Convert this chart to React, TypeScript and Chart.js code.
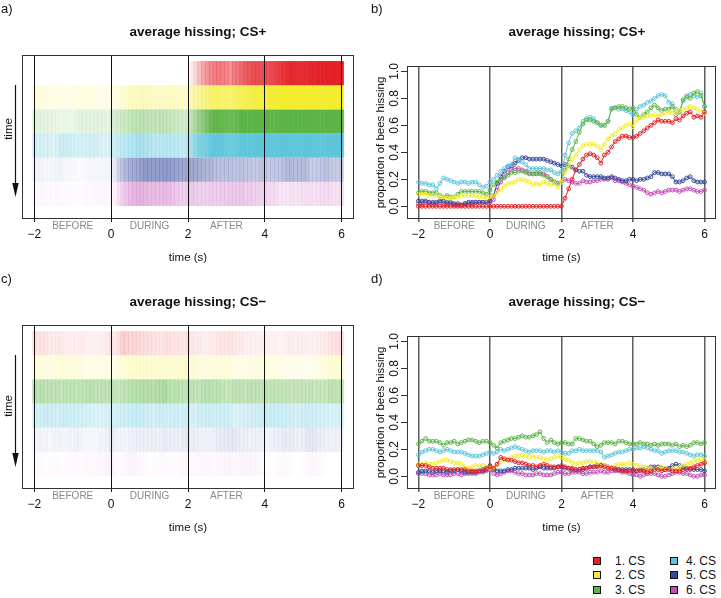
import React, { useEffect, useRef } from "react";
import { Chart, registerables } from "chart.js";

Chart.register(...registerables);

const FONT = '"Liberation Sans", Arial, Helvetica, sans-serif';
Chart.defaults.font.family = FONT;
Chart.defaults.color = "#111";

// ---------- data ----------
const TIME = [
  -2.0, -1.9, -1.8, -1.7, -1.6, -1.5, -1.4, -1.3, -1.2, -1.1,
  -1.0, -0.9, -0.8, -0.7, -0.6, -0.5, -0.4, -0.3, -0.2, -0.1,
  0.0, 0.1, 0.2, 0.3, 0.4, 0.5, 0.6, 0.7, 0.8, 0.9,
  1.0, 1.1, 1.2, 1.3, 1.4, 1.5, 1.6, 1.7, 1.8, 1.9,
  2.0, 2.1, 2.2, 2.3, 2.4, 2.5, 2.6, 2.7, 2.8, 2.9,
  3.0, 3.1, 3.2, 3.3, 3.4, 3.5, 3.6, 3.7, 3.8, 3.9,
  4.0, 4.1, 4.2, 4.3, 4.4, 4.5, 4.6, 4.7, 4.8, 4.9,
  5.0, 5.1, 5.2, 5.3, 5.4, 5.5, 5.6, 5.7, 5.8, 5.9,
  6.0,
];

const SERIES = ["1. CS", "2. CS", "3. CS", "4. CS", "5. CS", "6. CS"];
const COLORS = ["#E41F26", "#F3EC2F", "#5DB446", "#5FC5DB", "#34479B", "#C04FB8"];
const HEAT_ROW = [5, 4, 3, 2, 1, 0];

const X_TICKS = [-2, 0, 2, 4, 6];
const X_TICK_LABELS = ["\u22122", "0", "2", "4", "6"];
const Y_TICKS = [0, 0.2, 0.4, 0.6, 0.8, 1.0];
const Y_TICK_LABELS = ["0.0", "0.2", "0.4", "0.6", "0.8", "1.0"];
const PHASES = ["BEFORE", "DURING", "AFTER"];
const PHASE_AT = [-1, 1, 3];

// CS+ (panels a, b)
const CSP_1 = [
  0, 0, 0, 0, 0, 0, 0, 0, 0, 0,
  0, 0, 0, 0, 0, 0, 0, 0, 0, 0,
  0, 0, 0, 0, 0, 0, 0, 0, 0, 0,
  0, 0, 0, 0, 0, 0, 0, 0, 0, 0,
  0.00, 0.06, 0.13, 0.20, 0.27, 0.31, 0.35, 0.38, 0.39, 0.38,
  0.36, 0.32, 0.38, 0.40, 0.44, 0.48, 0.50, 0.52, 0.52, 0.51,
  0.51, 0.52, 0.54, 0.56, 0.58, 0.60, 0.62, 0.64, 0.63, 0.63,
  0.63, 0.62, 0.65, 0.64, 0.67, 0.69, 0.70, 0.66, 0.67, 0.66,
  0.70,
];
const CSP_2 = [
  0.09, 0.09, 0.09, 0.08, 0.08, 0.08, 0.07, 0.07, 0.06, 0.06,
  0.07, 0.07, 0.08, 0.08, 0.08, 0.08, 0.08, 0.07, 0.07, 0.06,
  0.07, 0.08, 0.10, 0.12, 0.15, 0.17, 0.17, 0.18, 0.20, 0.20,
  0.19, 0.18, 0.16, 0.17, 0.16, 0.18, 0.17, 0.16, 0.17, 0.14,
  0.18, 0.25, 0.30, 0.35, 0.38, 0.42, 0.45, 0.46, 0.46, 0.46,
  0.45, 0.42, 0.46, 0.50, 0.52, 0.54, 0.57, 0.58, 0.60, 0.61,
  0.59, 0.64, 0.66, 0.66, 0.67, 0.67, 0.68, 0.67, 0.68, 0.69,
  0.70, 0.69, 0.70, 0.71, 0.72, 0.73, 0.74, 0.73, 0.72, 0.70,
  0.69,
];
const CSP_3 = [
  0.10, 0.11, 0.11, 0.10, 0.10, 0.10, 0.08, 0.07, 0.08, 0.07,
  0.07, 0.09, 0.11, 0.11, 0.11, 0.11, 0.11, 0.11, 0.10, 0.09,
  0.12, 0.16, 0.18, 0.20, 0.21, 0.23, 0.25, 0.25, 0.26, 0.26,
  0.25, 0.24, 0.24, 0.25, 0.24, 0.23, 0.22, 0.20, 0.18, 0.17,
  0.18, 0.27, 0.35, 0.42, 0.48, 0.55, 0.61, 0.64, 0.64, 0.63,
  0.62, 0.60, 0.60, 0.63, 0.72, 0.73, 0.74, 0.74, 0.73, 0.72,
  0.73, 0.68, 0.66, 0.68, 0.70, 0.73, 0.75, 0.73, 0.71, 0.72,
  0.72, 0.74, 0.68, 0.70, 0.79, 0.81, 0.80, 0.84, 0.85, 0.82,
  0.74,
];
const CSP_4 = [
  0.18, 0.17, 0.17, 0.16, 0.16, 0.13, 0.17, 0.21, 0.20, 0.19,
  0.18, 0.17, 0.18, 0.18, 0.17, 0.18, 0.18, 0.16, 0.14, 0.15,
  0.18, 0.20, 0.23, 0.26, 0.28, 0.30, 0.31, 0.36, 0.35, 0.33,
  0.31, 0.28, 0.28, 0.28, 0.28, 0.28, 0.27, 0.27, 0.25, 0.24,
  0.26, 0.38, 0.47, 0.54, 0.56, 0.58, 0.63, 0.65, 0.66, 0.65,
  0.62, 0.60, 0.60, 0.63, 0.73, 0.73, 0.72, 0.72, 0.71, 0.70,
  0.68, 0.72, 0.74, 0.75, 0.77, 0.78, 0.80, 0.82, 0.83, 0.82,
  0.77, 0.76, 0.72, 0.70, 0.78, 0.82, 0.83, 0.82, 0.81, 0.84,
  0.74,
];
const CSP_5 = [
  0.04, 0.04, 0.04, 0.03, 0.03, 0.03, 0.04, 0.04, 0.03, 0.03,
  0.02, 0.02, 0.01, 0.02, 0.03, 0.03, 0.03, 0.03, 0.03, 0.03,
  0.04, 0.08, 0.17, 0.22, 0.26, 0.29, 0.30, 0.32, 0.34, 0.36,
  0.36, 0.35, 0.35, 0.35, 0.35, 0.35, 0.34, 0.33, 0.32, 0.31,
  0.30, 0.31, 0.30, 0.29, 0.27, 0.26, 0.26, 0.23, 0.22, 0.22,
  0.22, 0.22, 0.21, 0.21, 0.22, 0.21, 0.20, 0.19, 0.19, 0.20,
  0.20, 0.19, 0.20, 0.20, 0.21, 0.22, 0.25, 0.25, 0.24, 0.24,
  0.24, 0.22, 0.18, 0.18, 0.19, 0.21, 0.22, 0.19, 0.18, 0.18,
  0.18,
];
const CSP_6 = [
  0.02, 0.02, 0.03, 0.02, 0.02, 0.02, 0.03, 0.02, 0.02, 0.02,
  0.01, 0.01, 0.01, 0.02, 0.02, 0.02, 0.03, 0.03, 0.03, 0.03,
  0.03, 0.05, 0.12, 0.18, 0.22, 0.25, 0.27, 0.28, 0.28, 0.27,
  0.26, 0.25, 0.24, 0.24, 0.25, 0.24, 0.22, 0.20, 0.18, 0.17,
  0.18, 0.20, 0.19, 0.18, 0.17, 0.17, 0.19, 0.18, 0.18, 0.19,
  0.19, 0.20, 0.20, 0.20, 0.21, 0.19, 0.19, 0.18, 0.17, 0.16,
  0.15, 0.14, 0.13, 0.12, 0.10, 0.09, 0.10, 0.11, 0.10, 0.11,
  0.12, 0.12, 0.12, 0.11, 0.12, 0.13, 0.13, 0.12, 0.11, 0.11,
  0.12,
];

// CS- (panels c, d)
const CSM_1 = [
  0.08, 0.08, 0.08, 0.07, 0.06, 0.06, 0.06, 0.06, 0.05, 0.05,
  0.05, 0.05, 0.05, 0.05, 0.04, 0.04, 0.04, 0.04, 0.05, 0.06,
  0.07, 0.06, 0.09, 0.14, 0.13, 0.12, 0.12, 0.11, 0.10, 0.10,
  0.09, 0.08, 0.08, 0.07, 0.08, 0.09, 0.08, 0.07, 0.07, 0.07,
  0.08, 0.07, 0.06, 0.06, 0.05, 0.05, 0.06, 0.06, 0.07, 0.07,
  0.07, 0.08, 0.07, 0.06, 0.06, 0.05, 0.05, 0.04, 0.04, 0.04,
  0.05, 0.04, 0.04, 0.04, 0.03, 0.04, 0.05, 0.05, 0.04, 0.05,
  0.05, 0.04, 0.04, 0.04, 0.05, 0.05, 0.06, 0.07, 0.08, 0.09,
  0.10,
];
const CSM_2 = [
  0.09, 0.09, 0.10, 0.09, 0.09, 0.10, 0.11, 0.12, 0.12, 0.11,
  0.10, 0.10, 0.09, 0.07, 0.06, 0.07, 0.08, 0.08, 0.08, 0.07,
  0.06, 0.07, 0.09, 0.11, 0.12, 0.13, 0.14, 0.15, 0.15, 0.16,
  0.15, 0.14, 0.15, 0.14, 0.14, 0.13, 0.12, 0.13, 0.14, 0.15,
  0.14, 0.13, 0.12, 0.10, 0.09, 0.10, 0.10, 0.11, 0.11, 0.11,
  0.10, 0.09, 0.08, 0.07, 0.07, 0.08, 0.09, 0.09, 0.09, 0.10,
  0.09, 0.08, 0.08, 0.07, 0.06, 0.06, 0.05, 0.06, 0.07, 0.06,
  0.05, 0.05, 0.06, 0.07, 0.08, 0.09, 0.10, 0.11, 0.12, 0.13,
  0.12,
];
const CSM_3 = [
  0.24, 0.26, 0.28, 0.26, 0.26, 0.26, 0.25, 0.23, 0.25, 0.25,
  0.26, 0.24, 0.25, 0.26, 0.27, 0.27, 0.26, 0.25, 0.26, 0.26,
  0.25, 0.23, 0.21, 0.25, 0.26, 0.27, 0.28, 0.28, 0.29, 0.30,
  0.29, 0.29, 0.30, 0.31, 0.33, 0.28, 0.25, 0.27, 0.25, 0.24,
  0.25, 0.25, 0.24, 0.24, 0.28, 0.28, 0.27, 0.26, 0.26, 0.24,
  0.22, 0.23, 0.25, 0.25, 0.25, 0.24, 0.26, 0.26, 0.25, 0.24,
  0.24, 0.24, 0.25, 0.24, 0.24, 0.23, 0.24, 0.23, 0.24, 0.24,
  0.24, 0.23, 0.24, 0.22, 0.23, 0.22, 0.23, 0.25, 0.25, 0.24,
  0.25,
];
const CSM_4 = [
  0.16, 0.18, 0.19, 0.20, 0.20, 0.19, 0.18, 0.19, 0.20, 0.19,
  0.18, 0.18, 0.18, 0.17, 0.16, 0.15, 0.15, 0.15, 0.16, 0.17,
  0.18, 0.17, 0.18, 0.20, 0.19, 0.20, 0.21, 0.22, 0.21, 0.20,
  0.19, 0.18, 0.19, 0.19, 0.19, 0.18, 0.19, 0.19, 0.18, 0.19,
  0.18, 0.17, 0.17, 0.19, 0.19, 0.20, 0.19, 0.19, 0.19, 0.19,
  0.19, 0.18, 0.14, 0.15, 0.16, 0.17, 0.18, 0.18, 0.19, 0.20,
  0.20, 0.21, 0.21, 0.22, 0.21, 0.20, 0.19, 0.19, 0.17, 0.18,
  0.19, 0.19, 0.19, 0.18, 0.18, 0.17, 0.16, 0.15, 0.16, 0.16,
  0.15,
];
const CSM_5 = [
  0.03, 0.04, 0.04, 0.04, 0.03, 0.04, 0.04, 0.04, 0.03, 0.04,
  0.04, 0.05, 0.04, 0.03, 0.03, 0.03, 0.03, 0.04, 0.04, 0.05,
  0.08, 0.05, 0.04, 0.04, 0.04, 0.05, 0.05, 0.06, 0.06, 0.06,
  0.06, 0.06, 0.05, 0.06, 0.07, 0.06, 0.06, 0.06, 0.06, 0.07,
  0.07, 0.06, 0.06, 0.05, 0.05, 0.05, 0.05, 0.06, 0.07, 0.07,
  0.08, 0.08, 0.08, 0.07, 0.06, 0.06, 0.05, 0.05, 0.05, 0.05,
  0.04, 0.04, 0.05, 0.05, 0.06, 0.07, 0.07, 0.07, 0.06, 0.05,
  0.06, 0.08, 0.09, 0.08, 0.07, 0.06, 0.05, 0.05, 0.05, 0.05,
  0.04,
];
const CSM_6 = [
  0.02, 0.02, 0.02, 0.01, 0.01, 0.01, 0.02, 0.01, 0.01, 0.01,
  0.02, 0.02, 0.01, 0.02, 0.02, 0.02, 0.02, 0.03, 0.03, 0.04,
  0.05, 0.02, 0.01, 0.02, 0.03, 0.04, 0.04, 0.03, 0.02, 0.02,
  0.01, 0.01, 0.01, 0.02, 0.02, 0.01, 0.01, 0.01, 0.02, 0.03,
  0.03, 0.02, 0.02, 0.03, 0.03, 0.03, 0.02, 0.02, 0.03, 0.03,
  0.03, 0.04, 0.03, 0.03, 0.04, 0.04, 0.04, 0.03, 0.03, 0.02,
  0.01, 0.01, 0.00, 0.01, 0.02, 0.02, 0.02, 0.01, 0.00, 0.00,
  0.01, 0.02, 0.03, 0.03, 0.02, 0.02, 0.01, 0.00, 0.00, 0.01,
  0.01,
];

const CSP = [CSP_1, CSP_2, CSP_3, CSP_4, CSP_5, CSP_6];
const CSM = [CSM_1, CSM_2, CSM_3, CSM_4, CSM_5, CSM_6];

// ---------- style helpers ----------
const HEAT_GAIN = 1.5;
function rgba(hex: string, a: number) {
  const n = parseInt(hex.slice(1), 16);
  return `rgba(${(n >> 16) & 255},${(n >> 8) & 255},${n & 255},${a})`;
}

function xScale(gridColor: string, gridWidth: number, gridOnTop: boolean) {
  return {
    type: "linear",
    min: -2.32,
    max: 6.32,
    bounds: "data",
    offset: false,
    afterBuildTicks: (s: any) => {
      s.ticks = X_TICKS.map((v) => ({ value: v }));
    },
    afterFit: (s: any) => {
      s.height = 47;
    },
    grid: {
      color: gridColor,
      lineWidth: gridWidth,
      tickLength: 3,
      offset: false,
      drawOnChartArea: true,
      drawTicks: true,
      z: gridOnTop ? 1 : -1,
    },
    border: { display: false },
    ticks: {
      autoSkip: false,
      maxRotation: 0,
      minRotation: 0,
      padding: 5.8,
      color: "#111",
      font: { size: 12 },
      callback: (v: number) => {
        const i = X_TICKS.indexOf(v);
        return i >= 0 ? X_TICK_LABELS[i] : "";
      },
    },
    title: {
      display: true,
      text: "time (s)",
      color: "#111",
      font: { size: 11.5 },
      padding: { top: 0, bottom: 1 },
    },
  };
}

type DecorCfg = {
  label: string;
  labelX: number;
  title: string;
  titleX: number;
  yTickX?: number;
  arrowTextY?: number;
};

function makeDecor(cfg: DecorCfg) {
  return {
    id: "decor",
    afterDraw(chart: any) {
      const ctx = chart.ctx as CanvasRenderingContext2D;
      const a = chart.chartArea;
      ctx.save();
      // frame
      ctx.strokeStyle = "#333";
      ctx.lineWidth = 1;
      ctx.strokeRect(
        Math.round(a.left) + 0.5,
        Math.round(a.top) + 0.5,
        Math.round(a.right - a.left) - 1,
        Math.round(a.bottom - a.top) - 1
      );
      // panel label
      ctx.fillStyle = "#111";
      ctx.textBaseline = "middle";
      ctx.textAlign = "left";
      ctx.font = `13px ${FONT}`;
      ctx.fillText(cfg.label, cfg.labelX, 9);
      // title
      ctx.textAlign = "center";
      ctx.font = `bold 13.5px ${FONT}`;
      ctx.fillText(cfg.title, cfg.titleX, 32);
      // phase labels
      const xs = chart.scales.x;
      ctx.font = `10px ${FONT}`;
      ctx.fillStyle = "#888";
      PHASES.forEach((p, i) => {
        ctx.fillText(p, xs.getPixelForValue(PHASE_AT[i]), 226);
      });
      // rotated y tick labels
      if (cfg.yTickX !== undefined) {
        const ys = chart.scales.y;
        ctx.fillStyle = "#111";
        ctx.font = `12px ${FONT}`;
        Y_TICKS.forEach((v, i) => {
          ctx.save();
          ctx.translate(cfg.yTickX as number, ys.getPixelForValue(v));
          ctx.rotate(-Math.PI / 2);
          ctx.fillText(Y_TICK_LABELS[i], 0, 0);
          ctx.restore();
        });
      }
      // time arrow
      if (cfg.arrowTextY !== undefined) {
        ctx.fillStyle = "#111";
        ctx.font = `11.5px ${FONT}`;
        ctx.save();
        ctx.translate(9, cfg.arrowTextY);
        ctx.rotate(-Math.PI / 2);
        ctx.fillText("time", 0, 0);
        ctx.restore();
        ctx.strokeStyle = "#111";
        ctx.lineWidth = 1.2;
        ctx.beginPath();
        ctx.moveTo(15.5, 85);
        ctx.lineTo(15.5, 186);
        ctx.stroke();
        ctx.beginPath();
        ctx.moveTo(12.3, 183);
        ctx.lineTo(18.7, 183);
        ctx.lineTo(15.5, 197);
        ctx.closePath();
        ctx.fill();
      }
      ctx.restore();
    },
  };
}

function heatConfig(data: number[][], decor: DecorCfg) {
  return {
    type: "bar",
    data: {
      datasets: data.map((vals, k) => ({
        label: SERIES[k],
        data: TIME.map((t) => ({ x: t, y: [HEAT_ROW[k], HEAT_ROW[k] + 1] })),
        backgroundColor: vals.map((v) => rgba(COLORS[k], Math.min(1, v * HEAT_GAIN))),
        borderWidth: 0,
        grouped: false,
        barPercentage: 1.12,
        categoryPercentage: 1,
      })),
    },
    options: {
      responsive: false,
      animation: false,
      devicePixelRatio: 1,
      events: [],
      layout: { padding: { left: 22, right: 6, top: 55, bottom: 4 } },
      plugins: { legend: { display: false }, tooltip: { enabled: false }, title: { display: false } },
      scales: {
        x: xScale("#111", 1, true),
        y: { type: "linear", min: -0.54, max: 6.25, display: false },
      },
    },
    plugins: [makeDecor(decor)],
  };
}

function lineConfig(data: number[][], decor: DecorCfg) {
  return {
    type: "line",
    data: {
      datasets: data.map((vals, k) => ({
        label: SERIES[k],
        data: TIME.map((t, i) => ({ x: t, y: vals[i] })),
        borderColor: COLORS[k],
        borderWidth: 1,
        pointRadius: 1.9,
        pointBorderWidth: 1,
        pointBorderColor: COLORS[k],
        pointBackgroundColor: "rgba(255,255,255,0)",
        fill: false,
        tension: 0,
      })),
    },
    options: {
      responsive: false,
      animation: false,
      devicePixelRatio: 1,
      events: [],
      layout: { padding: { left: 8, right: 3, top: 66, bottom: 4 } },
      plugins: { legend: { display: false }, tooltip: { enabled: false }, title: { display: false } },
      scales: {
        x: xScale("#5e5e5e", 1.5, false),
        y: {
          type: "linear",
          min: -0.094,
          max: 1.04,
          bounds: "data",
          afterBuildTicks: (s: any) => {
            s.ticks = Y_TICKS.map((v) => ({ value: v }));
          },
          afterFit: (s: any) => {
            s.width = 39;
          },
          grid: { drawOnChartArea: false, drawTicks: true, tickLength: 6, color: "#333", lineWidth: 1 },
          border: { display: false },
          ticks: { display: false },
          title: {
            display: true,
            text: "proportion of bees hissing",
            color: "#111",
            font: { size: 11.5 },
            padding: { top: 5.8, bottom: 0 },
          },
        },
      },
    },
    plugins: [makeDecor(decor)],
  };
}

function Panel(props: { left: number; top: number; width: number; height: number; make: () => any }) {
  const ref = useRef<HTMLCanvasElement>(null);
  useEffect(() => {
    const chart = new Chart(ref.current as HTMLCanvasElement, props.make());
    return () => chart.destroy();
  }, []);
  return (
    <canvas
      ref={ref}
      width={props.width}
      height={props.height}
      style={{ position: "absolute", left: props.left, top: props.top, width: props.width, height: props.height }}
    />
  );
}

export default function App() {
  return (
    <div
      style={{
        position: "absolute",
        left: 0,
        top: 0,
        width: 721,
        height: 598,
        background: "#fff",
        overflow: "hidden",
        fontFamily: FONT,
      }}
    >
      <Panel
        left={0}
        top={0}
        width={360}
        height={270}
        make={() =>
          heatConfig(CSP, { label: "a)", labelX: 1, title: "average hissing; CS+", titleX: 198, arrowTextY: 129 })
        }
      />
      <Panel
        left={360}
        top={0}
        width={361}
        height={270}
        make={() =>
          lineConfig(CSP, { label: "b)", labelX: 11, title: "average hissing; CS+", titleX: 217, yTickX: 34.5 })
        }
      />
      <Panel
        left={0}
        top={270}
        width={360}
        height={270}
        make={() =>
          heatConfig(CSM, { label: "c)", labelX: 1, title: "average hissing; CS\u2212", titleX: 198, arrowTextY: 136 })
        }
      />
      <Panel
        left={360}
        top={270}
        width={361}
        height={270}
        make={() =>
          lineConfig(CSM, { label: "d)", labelX: 11, title: "average hissing; CS\u2212", titleX: 217, yTickX: 34.5 })
        }
      />
      {SERIES.map((name, k) => {
        const col = Math.floor(k / 3);
        const row = k % 3;
        const cy = 560.7 + row * 14.6;
        return (
          <React.Fragment key={name}>
            <div
              style={{
                position: "absolute",
                left: col ? 670 : 593,
                top: cy - 4,
                width: 6,
                height: 6,
                border: "1px solid #111",
                background: COLORS[k],
              }}
            />
            <div
              style={{
                position: "absolute",
                left: col ? 686 : 615,
                top: cy - 8,
                height: 16,
                lineHeight: "16px",
                fontSize: 12,
                color: "#111",
                whiteSpace: "nowrap",
              }}
            >
              {name}
            </div>
          </React.Fragment>
        );
      })}
    </div>
  );
}
